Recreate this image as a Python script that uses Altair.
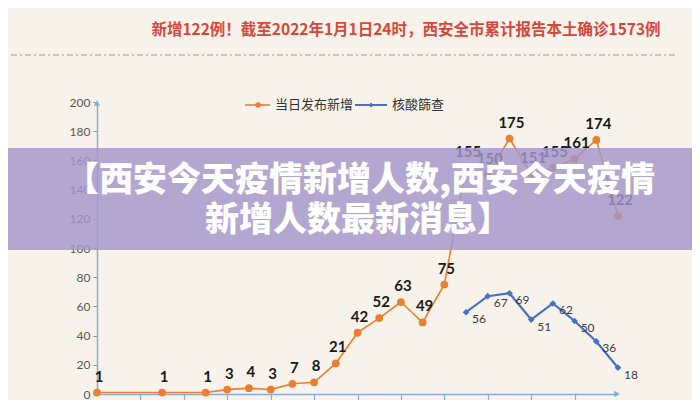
import altair as alt
import pandas as pd

# ---- text ----
title_text = "新增122例！截至2022年1月1日24时，西安全市累计报告本土确诊1573例"
banner_line1 = "【西安今天疫情新增人数,西安今天疫情"
banner_line2 = "新增人数最新消息】"
legend_orange = "当日发布新增"
legend_blue = "核酸篩查"

# ---- data (day index along the x axis) ----
orange_days = [0, 3, 5, 6, 7, 8, 9, 10, 11, 12, 13, 14, 15, 16, 17, 18, 19, 20, 21, 22, 23, 24]
orange_vals = [1, 1, 1, 3, 4, 3, 7, 8, 21, 42, 52, 63, 49, 75, 155, 150, 175, 151, 155, 161, 174, 122]
blue_days = [17, 18, 19, 20, 21, 22, 23, 24]
blue_vals = [56, 67, 69, 51, 62, 50, 36, 18]
y_ticks = [0, 20, 40, 60, 80, 100, 120, 140, 160, 180, 200]
x_ticks = [2, 4, 6, 8, 10, 12, 14, 16, 18, 20, 22]

W, H = 521, 292
ORANGE = "#ed7d31"
BLUE = "#4472c4"
AXIS = "#86acdc"
BG = "#f7f3ea"

df_o = pd.DataFrame({"day": orange_days, "v": orange_vals})
df_b = pd.DataFrame({"day": blue_days, "v": blue_vals})
one = pd.DataFrame({"a": [0]})

x_enc = alt.X("day:Q", scale=alt.Scale(domain=[0, 24], nice=False, zero=False),
              axis=alt.Axis(values=x_ticks, labels=False, tickSize=7, tickColor=AXIS,
                            tickWidth=1.2, domainColor=AXIS, domainWidth=1.5,
                            grid=False, title=None))
y_enc = alt.Y("v:Q", scale=alt.Scale(domain=[0, 200], nice=False),
              axis=alt.Axis(values=y_ticks, tickSize=4, tickColor="#8c8c8c",
                            domainColor=AXIS, domainWidth=1.5, labelColor="#595959",
                            labelFont="Lato", labelFontSize=12, labelPadding=3,
                            labelOverlap=False, labelFlush=False, labelBound=False,
                            grid=False, title=None))

base_o = alt.Chart(df_o).encode(x=x_enc, y=y_enc)
base_b = alt.Chart(df_b).encode(x=x_enc, y=y_enc)

o_line = base_o.mark_line(color=ORANGE, strokeWidth=1.6)
o_pts = base_o.mark_point(shape="circle", filled=True, size=60, color=ORANGE, opacity=1)
o_txt = base_o.mark_text(dy=-16, dx=2, font="Lato", fontSize=15, fontWeight="bold",
                         color="#1a1a1a").encode(text="v:Q")

b_line = base_b.mark_line(color=BLUE, strokeWidth=2.2)
b_pts = base_b.mark_point(shape="diamond", filled=True, size=45, color=BLUE, opacity=1)
b_txt = base_b.mark_text(dx=13, dy=7, font="Lato", fontSize=12,
                         color="#404040").encode(text="v:Q")

# axis arrows
y_arrow = alt.Chart(one).mark_point(shape="triangle-up", filled=True, size=40,
                                    color=AXIS, opacity=1).encode(
    x=alt.value(0), y=alt.value(1))
x_arrow = alt.Chart(one).mark_point(shape="triangle-right", filled=True, size=40,
                                    color=AXIS, opacity=1).encode(
    x=alt.value(W - 1), y=alt.value(H))

# title and separator
title = alt.Chart(one).mark_text(font="Noto Sans CJK SC", fontSize=15.5, fontWeight="bold",
                                 color="#d9473b", align="center", baseline="middle").encode(
    x=alt.value(309), y=alt.value(-72), text=alt.value(title_text))
sep = alt.Chart(one).mark_rule(color="#9a9a9a", strokeWidth=1,
                               strokeDash=[6, 3, 2, 3]).encode(
    x=alt.value(-86), x2=alt.value(581), y=alt.value(-47))

# legend
leg_o_line = alt.Chart(one).mark_rule(color=ORANGE, strokeWidth=1.6).encode(
    x=alt.value(148), x2=alt.value(173), y=alt.value(3))
leg_o_pt = alt.Chart(one).mark_point(shape="circle", filled=True, size=30,
                                     color=ORANGE, opacity=1).encode(
    x=alt.value(161), y=alt.value(3))
leg_o_txt = alt.Chart(one).mark_text(font="Noto Sans CJK SC", fontSize=13, color="#333333",
                                     align="left", baseline="middle").encode(
    x=alt.value(178), y=alt.value(3), text=alt.value(legend_orange))
leg_b_line = alt.Chart(one).mark_rule(color=BLUE, strokeWidth=2).encode(
    x=alt.value(258), x2=alt.value(290), y=alt.value(3))
leg_b_pt = alt.Chart(one).mark_point(shape="diamond", filled=True, size=25,
                                     color=BLUE, opacity=1).encode(
    x=alt.value(274), y=alt.value(3))
leg_b_txt = alt.Chart(one).mark_text(font="Noto Sans CJK SC", fontSize=13, color="#333333",
                                     align="left", baseline="middle").encode(
    x=alt.value(295), y=alt.value(3), text=alt.value(legend_blue))

# overlay banner
band = alt.Chart(one).mark_rect(color="#a496cc", opacity=0.82).encode(
    x=alt.value(-97), x2=alt.value(603), y=alt.value(46), y2=alt.value(148))
ban1 = alt.Chart(one).mark_text(font="Noto Sans CJK SC", fontSize=34, fontWeight=900,
                                color="white", align="center", baseline="middle").encode(
    x=alt.value(263), y=alt.value(79), text=alt.value(banner_line1))
ban2 = alt.Chart(one).mark_text(font="Noto Sans CJK SC", fontSize=34, fontWeight=900,
                                color="white", align="center", baseline="middle").encode(
    x=alt.value(261), y=alt.value(119), text=alt.value(banner_line2))

chart = alt.layer(
    o_line, o_pts, o_txt, b_line, b_pts, b_txt, y_arrow, x_arrow,
    title, sep, leg_o_line, leg_o_pt, leg_o_txt, leg_b_line, leg_b_pt, leg_b_txt,
    band, ban1, ban2
).properties(
    width=W, height=H,
    autosize=alt.AutoSizeParams(type="none"),
    padding={"left": 89, "top": 94, "right": 74, "bottom": 8},
    background=BG,
).configure_view(stroke=None)

chart.save("out.html", embed_options={"renderer": "svg", "actions": False})
